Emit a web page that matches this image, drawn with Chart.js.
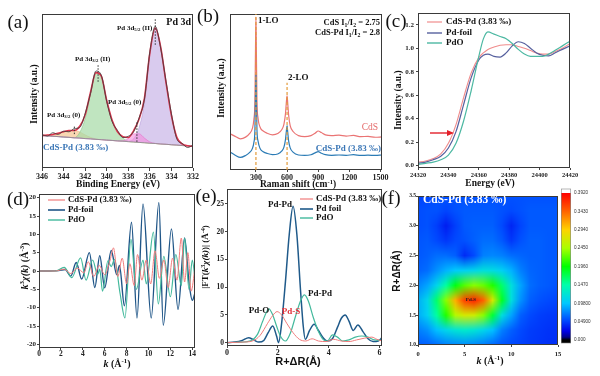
<!DOCTYPE html>
<html><head><meta charset="utf-8">
<script src="https://cdn.jsdelivr.net/npm/chart.js@4.4.1/dist/chart.umd.min.js"></script>
<style>
html,body{margin:0;padding:0;background:#fff;width:600px;height:376px;overflow:hidden;}
canvas{position:absolute;}
</style></head><body>
<canvas id="ca"></canvas><canvas id="cb"></canvas><canvas id="cc"></canvas>
<canvas id="cd"></canvas><canvas id="ce"></canvas><canvas id="cf"></canvas>
<script>
// ================= DATA =================
// (a) XPS Pd 3d
const xpsBE   = [346,345.5,345,344.5,344,343.5,343,342.5,342,341.5,341,340.5,340,339.5,339,338.5,338,337.5,337,336.5,336,335.5,335,334.5,334,333.5,333,332.5,332];
const xpsRaw  = [21.6,20.7,22.9,21.8,23.9,23.5,25.6,26.3,35.4,48.4,63.0,60.2,43.1,30.2,24.4,19.8,20.6,23.6,32.5,44.8,75.5,92.0,77.9,56.3,35.2,18.9,15.9,13.3,14.8];
const xpsFit  = [21.1,21.4,21.8,22.6,23.5,24.3,24.4,27.1,34.5,49.2,61.9,59.6,43.8,31.0,23.5,20.3,19.8,24.3,31.8,45.4,74.8,90.9,78.7,55.4,34.1,19.9,15.6,14.4,14.1];
const xpsBase = [21.1,20.9,20.6,20.4,20.1,19.9,19.6,19.4,19.1,18.9,18.6,18.4,18.1,17.9,17.6,17.4,17.1,16.9,16.6,16.4,16.1,15.9,15.6,15.4,15.1,14.9,14.6,14.4,14.1];
const xpsPd0_32 = [21.1,21.4,21.8,22.6,23.5,24.3,24.4,23.4,21.5,19.9,18.9,18.4,18.1,17.9,17.6,17.4,17.1,16.9,16.6,16.4,16.1,15.9,15.6,15.4,15.1,14.9,14.6,14.4,14.1];
const xpsPd2_32 = [21.1,20.9,20.6,20.4,20.1,19.9,19.6,23.1,32.1,48.2,61.6,59.6,43.8,31.0,23.5,19.5,17.3,16.9,16.6,16.4,16.1,15.9,15.6,15.4,15.1,14.9,14.6,14.4,14.1];
const xpsPd0_52 = [21.1,20.9,20.6,20.4,20.1,19.9,19.6,19.4,19.1,18.9,18.6,18.4,18.1,17.9,17.6,17.7,19.1,22.2,22.2,19.4,16.9,16.0,15.6,15.4,15.1,14.9,14.6,14.4,14.1];
const xpsPd2_52 = [21.1,20.9,20.6,20.4,20.1,19.9,19.6,19.4,19.1,18.9,18.6,18.4,18.1,17.9,17.6,17.4,17.5,19.0,26.2,42.4,74.0,90.8,78.7,55.4,34.1,19.9,15.6,14.4,14.1];
const xpsTicks = [346,344,342,340,338,336,334,332];

// (b) Raman
const ramanShift = [50,100,150,200,240,265,280,290,296,300,304,310,320,340,370,410,460,510,550,570,585,594,600,606,615,630,660,710,770,830,870,900,930,970,1030,1100,1170,1240,1310,1380,1450,1515];
const ramanCdS   = [23.7,22.0,20.4,21.5,24.0,27.0,33.0,45.0,80.0,100.0,78.0,45.0,34.0,28.0,25.5,24.0,23.0,23.8,26.5,30.0,37.0,45.0,48.5,44.0,36.0,29.0,25.0,22.5,21.8,22.5,24.0,25.5,24.5,23.0,22.5,22.8,22.2,22.6,21.8,22.0,21.4,21.6];
const ramanCdSPd = [11.8,9.7,8.2,9.5,11.5,14.0,18.0,26.0,50.0,62.4,48.0,26.0,19.0,14.0,12.0,10.8,10.1,10.5,12.5,15.0,20.0,26.0,29.0,25.0,19.0,14.5,11.5,9.8,9.5,10.0,11.2,12.0,11.0,10.0,9.6,9.8,9.6,10.0,9.5,9.7,9.5,9.8];
const ramanTicks = [300,600,900,1200,1500];

// (c) XANES
const xanesE      = [24320,24325,24330,24335,24340,24345,24350,24355,24360,24363,24366,24370,24374,24378,24382,24386,24390,24394,24398,24402,24406,24410,24415,24420];
const xanesCdSPd  = [0.03,0.04,0.06,0.10,0.19,0.35,0.58,0.79,0.92,0.96,0.99,1.01,1.025,1.03,1.03,1.015,1.0,0.98,0.96,0.95,0.95,0.97,1.0,1.04];
const xanesPdFoil = [0.02,0.03,0.05,0.08,0.15,0.29,0.52,0.75,0.90,0.94,0.95,0.93,0.925,0.96,1.02,1.055,1.04,1.0,0.96,0.94,0.935,0.96,0.99,1.02];
const xanesPdO    = [0.01,0.02,0.03,0.05,0.09,0.19,0.38,0.64,0.93,1.08,1.14,1.12,1.10,1.08,1.04,0.99,0.95,0.93,0.93,0.93,0.95,0.98,1.02,1.06];
const xanesXTicks = [24320,24340,24360,24380,24400,24420];
const xanesYTicks = [0,0.2,0.4,0.6,0.8,1.0,1.2];

// (d) k-space EXAFS
const kCdS    = [0,1.5,2.3,2.9,3.5,4.1,4.5,5.0,5.5,6.0,6.5,6.8,7.2,7.6,8.0,8.3,8.7,9.0,9.4,9.8,10.2,10.6,11.0,11.4,11.8,12.2,12.6,13.0,13.3,13.6,13.9,14.25];
const chiCdS  = [0,0,0.5,-0.7,0.8,-0.5,2.5,-1.5,1.5,-1.0,3.0,6.3,-1.5,3.5,-3.5,2.0,-4.0,4.5,-2.5,3.0,-3.5,5.5,-2.0,3.0,-4.5,3.5,-2.5,9.0,-3.0,5.0,-5.5,1.0];
const kFoil   = [0,1.0,1.8,2.4,2.9,3.4,3.9,4.6,5.1,5.55,6.0,6.6,7.1,7.35,7.8,8.45,8.95,9.5,10.25,10.95,11.35,12.1,12.7,13.3,13.7,14.0,14.25];
const chiFoil = [0,0,0.1,0.4,-1.4,2.3,-2.2,5.0,-4.5,4.2,-4.6,5.6,-1.0,1.5,-9.5,13.3,-12.8,18.3,-12.8,18.7,-14.8,11.5,-10.5,9.0,-3.0,-8.0,-6.0];
const kPdO    = [0,1.5,2.3,3.0,3.8,4.3,4.9,5.35,5.55,5.8,6.3,6.6,6.9,7.4,7.85,8.4,8.9,9.5,9.8,10.45,10.9,11.4,12.0,12.5,13.0,13.3,13.7,14.0,14.25];
const chiPdO  = [0,0,1.0,-1.8,3.6,-2.5,3.0,-1.0,0.5,-5.5,2.8,1.2,3.2,-6.0,-12.8,8.6,-5.0,3.0,-3.5,10.6,-9.0,4.0,-7.0,4.5,-4.0,9.0,-5.0,3.0,-2.0];
const kXTicks = [0,2,4,6,8,10,12,14];
const kYTicks = [-20,-15,-10,-5,0,5,10,15,20];

// (e) R-space FT
const rCdS   = [0,0.6,1.0,1.3,1.6,1.8,1.97,2.15,2.35,2.6,2.85,3.1,3.35,3.6,3.9,4.2,4.5,4.8,5.1,5.4,5.7,5.9,6.1];
const ftCdS  = [0,0.1,0.3,1.3,3.5,4.9,5.6,5.0,3.5,1.8,0.6,0.3,0.7,0.3,0.2,0.6,0.3,0.2,0.5,0.8,1.0,0.6,0.3];
const rFoil  = [0,0.3,0.6,0.85,1.05,1.25,1.45,1.62,1.8,1.95,2.03,2.15,2.3,2.45,2.6,2.75,2.9,3.0,3.08,3.25,3.43,3.6,3.8,3.95,4.15,4.35,4.5,4.65,4.8,4.97,5.15,5.35,5.55,5.75,5.95,6.1];
const ftFoil = [0,0.1,0.4,0.9,0.5,0.1,0.4,1.8,3.0,1.2,0.0,3.5,11,19.5,24.6,19.5,9,3,0.6,2.2,3.3,2.2,0.8,0.3,0.7,2.8,4.4,5.0,3.9,2.2,3.2,2.0,0.7,0.2,0.3,0.9];
const rPdO   = [0,0.5,0.8,1.0,1.2,1.4,1.55,1.65,1.8,1.95,2.1,2.3,2.5,2.7,2.9,3.05,3.2,3.4,3.6,3.8,3.95,4.15,4.35,4.55,4.8,5.05,5.3,5.55,5.8,6.1];
const ftPdO  = [0,0.1,0.2,0.5,1.5,3.8,5.5,6.1,5.0,3.0,1.2,0.3,1.8,4.8,7.6,8.6,7.5,4.5,2.0,0.5,0.3,1.4,1.0,0.3,0.5,1.0,1.2,1.0,0.5,0.4];
const rXTicks = [0,2,4,6];
const rYTicks = [0,5,10,15,20,25];

// (f) wavelet transform heat map (rows: R, columns: k)
const heatK = [0,1,2,3,4,5,6,7,8,9,10,11,12,13,14,15];
const heatR = [1.0,1.25,1.5,1.75,2.0,2.25,2.5,2.75,3.0,3.25,3.5];
const heatR100 = [0.058,0.06,0.065,0.072,0.075,0.077,0.075,0.07,0.063,0.056,0.052,0.049,0.046,0.044,0.042,0.042];
const heatR125 = [0.065,0.078,0.095,0.11,0.122,0.128,0.122,0.11,0.095,0.072,0.06,0.052,0.047,0.045,0.043,0.043];
const heatR150 = [0.078,0.105,0.15,0.205,0.25,0.27,0.265,0.235,0.18,0.118,0.085,0.06,0.052,0.048,0.046,0.045];
const heatR175 = [0.078,0.11,0.165,0.235,0.31,0.36,0.375,0.345,0.27,0.185,0.118,0.078,0.06,0.055,0.052,0.05];
const heatR200 = [0.065,0.085,0.11,0.15,0.19,0.22,0.235,0.225,0.205,0.165,0.118,0.085,0.065,0.06,0.058,0.055];
const heatR225 = [0.058,0.065,0.078,0.09,0.1,0.105,0.11,0.118,0.115,0.105,0.09,0.072,0.062,0.06,0.058,0.058];
const heatR250 = [0.055,0.06,0.065,0.065,0.06,0.04,0.052,0.072,0.075,0.072,0.065,0.062,0.06,0.06,0.058,0.058];
const heatR275 = [0.055,0.058,0.052,0.045,0.052,0.055,0.06,0.065,0.065,0.058,0.045,0.055,0.06,0.06,0.058,0.058];
const heatR300 = [0.052,0.055,0.048,0.035,0.048,0.058,0.06,0.06,0.06,0.052,0.038,0.05,0.058,0.058,0.058,0.058];
const heatR325 = [0.052,0.055,0.055,0.05,0.055,0.058,0.058,0.058,0.058,0.055,0.052,0.055,0.058,0.058,0.058,0.058];
const heatR350 = [0.05,0.05,0.055,0.055,0.055,0.055,0.055,0.055,0.055,0.055,0.055,0.055,0.055,0.055,0.055,0.055];
const heatMax = 0.392;
const heatBarLabels = ["0.3920","0.3430","0.2940","0.2450","0.1960","0.1470","0.09800","0.04900","0.000"];
const heatXTicks = [0,5,10,15];
const heatYTicks = [1.0,1.5,2.0,2.5,3.0,3.5];

// ================= HELPERS =================
const SERIF = '"Liberation Serif","Times New Roman",serif';
const SANS = '"Liberation Sans",Arial,sans-serif';
const xy = (xs, ys) => xs.map((x, i) => ({x, y: ys[i]}));
const CMAP = [[0,0,0,0],[0.02,0,0,140],[0.06,0,0,230],[0.13,0,70,255],[0.25,0,200,255],[0.375,0,255,170],[0.5,0,255,0],[0.625,170,255,0],[0.75,255,210,0],[0.875,255,100,0],[1,255,0,0]];
function cmap(t) {
  t = Math.max(0, Math.min(1, t));
  for (let i = 1; i < CMAP.length; i++) {
    if (t <= CMAP[i][0]) {
      const a = CMAP[i-1], b = CMAP[i], f = (t - a[0]) / (b[0] - a[0]);
      const c = [1,2,3].map(k => Math.round(a[k] + (b[k] - a[k]) * f));
      return `rgb(${c[0]},${c[1]},${c[2]})`;
    }
  }
  return 'rgb(255,0,0)';
}
function drawRich(ctx, t) {
  const size = t.size || 9, fam = t.family || SERIF, wt = t.weight || 'bold';
  const segs = (typeof t.text === 'string') ? [{t: t.text}] : t.text;
  const fontOf = s => `${s.it ? 'italic ' : ''}${wt} ${(s.sub || s.sup) ? size * 0.68 : size}px ${fam}`;
  let w = 0; segs.forEach(s => { ctx.font = fontOf(s); w += ctx.measureText(s.t).width; });
  ctx.save(); ctx.translate(t.x, t.y); if (t.rot) ctx.rotate(t.rot);
  let cx = t.align === 'left' ? 0 : t.align === 'right' ? -w : -w / 2;
  ctx.textBaseline = 'middle'; ctx.fillStyle = t.color || '#111';
  segs.forEach(s => { ctx.font = fontOf(s); const dy = s.sub ? size * 0.28 : s.sup ? -size * 0.32 : 0; ctx.fillText(s.t, cx, dy); cx += ctx.measureText(s.t).width; });
  ctx.restore();
}
const DECO = {};
const decoPlugin = {
  id: 'deco',
  afterDatasetsDraw(chart) {
    // smooth the library-drawn heat cells: sample each cell colour and re-draw it bilinearly interpolated
    const s = DECO[chart.canvas.id]; if (!s || !s.heat) return;
    const ctx = chart.ctx, a = chart.chartArea, meta = chart.getDatasetMeta(0);
    const nx = heatK.length, ny = heatR.length;
    const sm = document.createElement('canvas'); sm.width = nx; sm.height = ny;
    const sctx = sm.getContext('2d'); const img = sctx.createImageData(nx, ny);
    meta.data.forEach((el, i) => {
      const sx = Math.min(Math.max(Math.round(el.x), Math.ceil(a.left) + 1), Math.floor(a.right) - 2);
      const sy = Math.min(Math.max(Math.round(el.y), Math.ceil(a.top) + 1), Math.floor(a.bottom) - 2);
      const d = ctx.getImageData(sx, sy, 1, 1).data;
      const col = i % nx, row = ny - 1 - Math.floor(i / nx);
      const o = (row * nx + col) * 4;
      img.data[o] = d[0]; img.data[o + 1] = d[1]; img.data[o + 2] = d[2]; img.data[o + 3] = 255;
    });
    sctx.putImageData(img, 0, 0);
    const X = chart.scales.x, Y = chart.scales.y;
    const dk = heatK[1] - heatK[0], dr = heatR[1] - heatR[0];
    const x0 = X.getPixelForValue(heatK[0] - dk / 2), x1 = X.getPixelForValue(heatK[nx - 1] + dk / 2);
    const y0 = Y.getPixelForValue(heatR[ny - 1] + dr / 2), y1 = Y.getPixelForValue(heatR[0] - dr / 2);
    ctx.save(); ctx.beginPath(); ctx.rect(a.left, a.top, a.right - a.left, a.bottom - a.top); ctx.clip();
    ctx.imageSmoothingEnabled = true; ctx.imageSmoothingQuality = 'medium';
    ctx.drawImage(sm, x0, y0, x1 - x0, y1 - y0);
    ctx.restore();
  },
  afterDraw(chart) {
    const s = DECO[chart.canvas.id]; if (!s) return;
    const ctx = chart.ctx, a = chart.chartArea, X = chart.scales.x, Y = chart.scales.y;
    ctx.save();
    ctx.strokeStyle = '#3a3a3a'; ctx.lineWidth = 1;
    ctx.strokeRect(Math.round(a.left) + 0.5, Math.round(a.top) + 0.5, Math.round(a.right - a.left) - 1, Math.round(a.bottom - a.top) - 1);
    (s.dlines || []).forEach(l => {
      ctx.save(); ctx.strokeStyle = l.color; ctx.lineWidth = l.w || 1; ctx.setLineDash(l.dash || []);
      ctx.beginPath(); ctx.moveTo(X.getPixelForValue(l.x1), Y.getPixelForValue(l.y1)); ctx.lineTo(X.getPixelForValue(l.x2), Y.getPixelForValue(l.y2)); ctx.stroke(); ctx.restore();
    });
    ctx.translate(-s.off[0], -s.off[1]);
    (s.plines || []).forEach(l => {
      ctx.save(); ctx.strokeStyle = l.color; ctx.lineWidth = l.w || 1; ctx.setLineDash(l.dash || []);
      ctx.beginPath(); ctx.moveTo(l.x1, l.y1); ctx.lineTo(l.x2, l.y2); ctx.stroke(); ctx.restore();
    });
    if (s.arrow) {
      const r = s.arrow; ctx.save(); ctx.strokeStyle = r.color; ctx.fillStyle = r.color; ctx.lineWidth = 1.4;
      ctx.beginPath(); ctx.moveTo(r.x1, r.y); ctx.lineTo(r.x2 - 5, r.y); ctx.stroke();
      ctx.beginPath(); ctx.moveTo(r.x2, r.y); ctx.lineTo(r.x2 - 7, r.y - 3); ctx.lineTo(r.x2 - 7, r.y + 3); ctx.closePath(); ctx.fill(); ctx.restore();
    }
    if (s.bar) {
      const b = s.bar; const g = ctx.createLinearGradient(0, b.y0, 0, b.y1);
      CMAP.forEach(c => g.addColorStop(c[0], `rgb(${c[1]},${c[2]},${c[3]})`));
      ctx.fillStyle = g; ctx.fillRect(b.x, b.y1, b.w, b.y0 - b.y1);
      ctx.fillStyle = '#fff'; ctx.fillRect(b.x, b.y1 - 4, b.w, 4);
      ctx.fillStyle = '#000'; ctx.fillRect(b.x, b.y0, b.w, 3);
      ctx.strokeStyle = '#888'; ctx.lineWidth = 0.6; ctx.strokeRect(b.x + 0.3, b.y1 - 4, b.w - 0.6, b.y0 - b.y1 + 7);
      heatBarLabels.forEach((lab, i) => {
        const v = heatMax * (1 - i / (heatBarLabels.length - 1));
        const yy = b.y0 - (v / heatMax) * (b.y0 - b.y1);
        drawRich(ctx, {x: b.x + b.w + 3, y: yy, text: lab, size: 4.6, family: SANS, weight: 'normal', align: 'left', color: '#333'});
      });
    }
    (s.texts || []).forEach(t => drawRich(ctx, t));
    ctx.restore();
  }
};
function axisCfg(min, max, tickVals, o = {}) {
  return {
    type: 'linear', min, max, reverse: !!o.reverse,
    afterBuildTicks: sc => { sc.ticks = tickVals.map(v => ({value: v})); },
    ticks: { display: o.labels !== false, font: {family: SERIF, weight: 'bold', size: o.size || 8}, color: '#222',
      padding: (o.pad !== undefined ? o.pad : 1), maxRotation: 0, minRotation: 0, autoSkip: false,
      callback: o.fmt || (v => String(v)) },
    grid: { display: true, drawOnChartArea: false, drawTicks: o.tickLen !== 0, tickLength: (o.tickLen !== undefined ? o.tickLen : 3), color: '#444', lineWidth: 1 },
    border: { display: false }
  };
}
function mk(id, box, area, type, datasets, xs, ys, deco) {
  const c = document.getElementById(id);
  c.style.left = box[0] + 'px'; c.style.top = box[1] + 'px';
  c.style.width = box[2] + 'px'; c.style.height = box[3] + 'px';
  c.width = box[2]; c.height = box[3];
  const padL = area[0] - box[0], padT = area[1] - box[1], padR = box[0] + box[2] - area[2], padB = box[1] + box[3] - area[3];
  xs.afterFit = sc => { sc.height = padB; sc.paddingLeft = 0; sc.paddingRight = 0; sc.paddingTop = 0; sc.paddingBottom = 0; };
  ys.afterFit = sc => { sc.width = padL; sc.paddingLeft = 0; sc.paddingRight = 0; sc.paddingTop = 0; sc.paddingBottom = 0; };
  deco.off = [box[0], box[1]];
  DECO[id] = deco;
  return new Chart(c, { type, data: { datasets },
    options: { responsive: false, animation: false, devicePixelRatio: 1, events: [],
      layout: { padding: { left: 0, top: padT, right: padR, bottom: 0 } },
      scales: { x: xs, y: ys },
      plugins: { legend: { display: false }, tooltip: { enabled: false } } },
    plugins: [decoPlugin] });
}
const L = (data, color, w, extra = {}) => Object.assign({ data, borderColor: color, borderWidth: w, pointRadius: 0, fill: false, cubicInterpolationMode: 'monotone' }, extra);
const sub = t => ({t, sub: true}), sup = t => ({t, sup: true}), it = t => ({t, it: true}), P = t => ({t});
const ROT = -Math.PI / 2;
const BLUE_T = '#3a76b6';

// ================= (a) XPS =================
mk('ca', [0, 0, 200, 192], [42, 14, 193, 168], 'line', [
  L(xy(xpsBE, xpsRaw), '#3a3a3a', 0.8),
  L(xy(xpsBE, xpsFit), '#e0344e', 1.6),
  L(xy(xpsBE, xpsBase), '#8c8c8c', 0.8),
  L(xy(xpsBE, xpsPd0_52), 'rgba(225,110,200,0.9)', 0.6, { fill: 2, backgroundColor: 'rgba(245,140,220,0.6)' }),
  L(xy(xpsBE, xpsPd2_52), 'rgba(170,140,210,0.8)', 0.6, { fill: 2, backgroundColor: 'rgba(204,186,232,0.75)' }),
  L(xy(xpsBE, xpsPd2_32), 'rgba(120,190,120,0.8)', 0.6, { fill: 2, backgroundColor: 'rgba(165,218,165,0.7)' }),
  L(xy(xpsBE, xpsPd0_32), 'rgba(230,170,110,0.8)', 0.6, { fill: 2, backgroundColor: 'rgba(246,202,152,0.75)' })
], axisCfg(332, 346, xpsTicks, { reverse: true, size: 8, tickLen: 3, pad: 1 }), axisCfg(0, 100, [], { labels: false, tickLen: 0 }), {
  dlines: [
    { x1: 335.5, y1: 80, x2: 335.5, y2: 97, color: '#333', dash: [1.5, 1.5] },
    { x1: 340.8, y1: 56, x2: 340.8, y2: 67, color: '#333', dash: [1.5, 1.5] },
    { x1: 337.2, y1: 17, x2: 337.2, y2: 30, color: '#333', dash: [1.5, 1.5] },
    { x1: 343, y1: 22, x2: 343, y2: 27, color: '#333', dash: [1.5, 1.5] }
  ],
  texts: [
    { x: 18, y: 23, text: '(a)', size: 19, weight: 'normal' },
    { x: 191, y: 22, text: 'Pd 3d', size: 10, align: 'right' },
    { x: 117, y: 28, text: [P('Pd 3d'), sub('5/2'), P(' (II)')], size: 7, align: 'left' },
    { x: 75, y: 59, text: [P('Pd 3d'), sub('3/2'), P(' (II)')], size: 7, align: 'left' },
    { x: 108, y: 102, text: [P('Pd 3d'), sub('5/2'), P(' (0)')], size: 7, align: 'left' },
    { x: 47, y: 115, text: [P('Pd 3d'), sub('3/2'), P(' (0)')], size: 7, align: 'left' },
    { x: 43, y: 148, text: 'CdS-Pd (3.83 ‰)', size: 9, align: 'left', color: BLUE_T },
    { x: 118, y: 185, text: 'Binding Energy (eV)', size: 9.5 },
    { x: 35, y: 94, text: 'Intensity (a.u.)', size: 9.5, rot: ROT }
  ]
});

// ================= (b) Raman =================
mk('cb', [195, 0, 195, 192], [230, 14, 382, 170], 'line', [
  L(xy(ramanShift, ramanCdSPd), '#2b7bb5', 1.2),
  L(xy(ramanShift, ramanCdS), '#ea7474', 1.2)
], axisCfg(50, 1515, ramanTicks, { size: 8, tickLen: 2, pad: 1 }), axisCfg(0, 102, [], { labels: false, tickLen: 0 }), {
  dlines: [
    { x1: 300, y1: 0, x2: 300, y2: 102, color: '#e39b3a', dash: [3, 2], w: 1.2 },
    { x1: 600, y1: 0, x2: 600, y2: 57, color: '#e39b3a', dash: [3, 2], w: 1.2 }
  ],
  texts: [
    { x: 208, y: 17, text: '(b)', size: 19, weight: 'normal' },
    { x: 258, y: 21, text: '1-LO', size: 9, align: 'left' },
    { x: 288, y: 78, text: '2-LO', size: 9, align: 'left' },
    { x: 380, y: 23, text: [P('CdS I'), sub('1'), P('/I'), sub('2'), P(' = 2.75')], size: 8.5, align: 'right' },
    { x: 380, y: 33, text: [P('CdS-Pd I'), sub('1'), P('/I'), sub('2'), P(' = 2.8')], size: 8.5, align: 'right' },
    { x: 378, y: 127, text: 'CdS', size: 9.5, align: 'right', color: '#e46a6a', weight: 'normal' },
    { x: 381, y: 149, text: 'CdS-Pd (3.83 ‰)', size: 9, align: 'right', color: BLUE_T },
    { x: 298, y: 185, text: [P('Raman shift (cm'), sup('-1'), P(')')], size: 9.5 },
    { x: 222, y: 88, text: 'Intensity (a.u.)', size: 9.5, rot: ROT }
  ]
});

// ================= (c) XANES =================
mk('cc', [380, 0, 220, 192], [418, 13, 570, 168], 'line', [
  L(xy(xanesE, xanesPdO), '#4cb8a2', 1.2),
  L(xy(xanesE, xanesPdFoil), '#56609e', 1.2),
  L(xy(xanesE, xanesCdSPd), '#f08c8c', 1.1)
], axisCfg(24320, 24420, xanesXTicks, { size: 6.5, tickLen: 2, pad: 1 }), axisCfg(-0.02, 1.3, xanesYTicks, { size: 7, tickLen: 2, pad: 2, fmt: v => v.toFixed(1) }), {
  plines: [
    { x1: 427, y1: 22, x2: 442, y2: 22, color: '#f08c8c', w: 1.2 },
    { x1: 427, y1: 33, x2: 442, y2: 33, color: '#56609e', w: 1.4 },
    { x1: 427, y1: 43, x2: 442, y2: 43, color: '#4cb8a2', w: 1.4 }
  ],
  arrow: { x1: 430, x2: 454, y: 133, color: '#e3202a' },
  texts: [
    { x: 396, y: 22, text: '(c)', size: 19, weight: 'normal' },
    { x: 446, y: 22, text: 'CdS-Pd (3.83 ‰)', size: 9, align: 'left' },
    { x: 446, y: 33, text: 'Pd-foil', size: 9, align: 'left' },
    { x: 446, y: 43, text: 'PdO', size: 9, align: 'left' },
    { x: 490, y: 184, text: 'Energy (eV)', size: 9.5 },
    { x: 399, y: 100, text: 'Intensity (a.u.)', size: 9.5, rot: ROT }
  ]
});

// ================= (d) k-space =================
mk('cd', [0, 185, 200, 191], [39, 194, 195, 348], 'line', [
  L(xy(kCdS, chiCdS), '#f07c7c', 1.0),
  L(xy(kPdO, chiPdO), '#43b99c', 1.2),
  L(xy(kFoil, chiFoil), '#1f5587', 1.4)
], axisCfg(0, 14.25, kXTicks, { size: 7.5, tickLen: 2, pad: 0 }), axisCfg(-21, 21, kYTicks, { size: 7, tickLen: 2, pad: 1 }), {
  plines: [
    { x1: 48, y1: 200, x2: 65, y2: 200, color: '#f07c7c', w: 1.2 },
    { x1: 48, y1: 210, x2: 65, y2: 210, color: '#1f5587', w: 1.6 },
    { x1: 48, y1: 220, x2: 65, y2: 220, color: '#43b99c', w: 1.4 }
  ],
  texts: [
    { x: 18, y: 200, text: '(d)', size: 19, weight: 'normal' },
    { x: 68, y: 200, text: 'CdS-Pd (3.83 ‰)', size: 8.8, align: 'left' },
    { x: 68, y: 210, text: 'Pd-foil', size: 8.8, align: 'left' },
    { x: 68, y: 220, text: 'PdO', size: 8.8, align: 'left' },
    { x: 117, y: 364, text: [it('k'), P(' (Å'), sup('-1'), P(')')], size: 10 },
    { x: 25, y: 266, text: [it('k'), sup('3'), it('χ(k)'), P(' (Å'), sup('-3'), P(')')], size: 10, rot: ROT }
  ]
});

// ================= (e) R-space =================
mk('ce', [193, 185, 197, 191], [227, 189, 382, 346], 'line', [
  L(xy(rCdS, ftCdS), '#f07c7c', 1.0),
  L(xy(rPdO, ftPdO), '#43b99c', 1.2),
  L(xy(rFoil, ftFoil), '#1f5a8a', 1.5)
], axisCfg(0, 6.1, rXTicks, { size: 8, tickLen: 2, pad: 0 }), axisCfg(-0.6, 27.7, rYTicks, { size: 7.5, tickLen: 2, pad: 1 }), {
  plines: [
    { x1: 300, y1: 199, x2: 313, y2: 199, color: '#f07c7c', w: 1.2 },
    { x1: 300, y1: 209, x2: 313, y2: 209, color: '#1f5a8a', w: 1.6 },
    { x1: 300, y1: 218, x2: 313, y2: 218, color: '#43b99c', w: 1.4 }
  ],
  texts: [
    { x: 206, y: 197, text: '(e)', size: 19, weight: 'normal' },
    { x: 316, y: 199, text: 'CdS-Pd (3.83 ‰)', size: 9, align: 'left' },
    { x: 316, y: 209, text: 'Pd foil', size: 9, align: 'left' },
    { x: 316, y: 218, text: 'PdO', size: 9, align: 'left' },
    { x: 280, y: 205, text: 'Pd-Pd', size: 9 },
    { x: 320, y: 294, text: 'Pd-Pd', size: 9 },
    { x: 259, y: 311, text: 'Pd-O', size: 9 },
    { x: 291, y: 312, text: 'Pd-S', size: 9, color: '#e0303a' },
    { x: 298, y: 362, text: 'R+ΔR(Å)', size: 11, family: SANS },
    { x: 206, y: 257, text: [P('|FT('), it('k'), sup('3'), it('χ(k)'), P(')| (Å'), sup('-4'), P(')')], size: 9, rot: ROT }
  ]
});

// ================= (f) WT heat map =================
const heatRows = [heatR100, heatR125, heatR150, heatR175, heatR200, heatR225, heatR250, heatR275, heatR300, heatR325, heatR350];
const heatData = [];
heatRows.forEach((row, r) => row.forEach((v, c) => heatData.push({ x: heatK[c], y: heatR[r], v })));
mk('cf', [380, 185, 220, 191], [418, 190, 558, 345], 'scatter', [{
  data: heatData, pointStyle: 'rect', pointRadius: 11, borderWidth: 0,
  backgroundColor: ctx => (ctx.raw ? cmap(ctx.raw.v / heatMax) : '#0050ff')
}], axisCfg(0, 15, heatXTicks, { size: 6.5, tickLen: 2, pad: 3 }), axisCfg(1.0, 3.5, heatYTicks, { size: 5.5, tickLen: 2, pad: 0, fmt: v => v.toFixed(1) }), {
  heat: true,
  bar: { x: 561, w: 10, y1: 193, y0: 340 },
  texts: [
    { x: 391, y: 199, text: '(f)', size: 19, weight: 'normal' },
    { x: 423, y: 200, text: 'CdS-Pd (3.83 ‰)', size: 11.5, align: 'left', color: '#ffffff' },
    { x: 471, y: 300, text: 'Pd-S', size: 5, color: '#222' },
    { x: 490, y: 361, text: [it('k'), P(' (Å'), sup('-1'), P(')')], size: 10 },
    { x: 397, y: 271, text: 'R+ΔR(Å)', size: 10, family: SANS, rot: ROT }
  ]
});
</script>
</body></html>
